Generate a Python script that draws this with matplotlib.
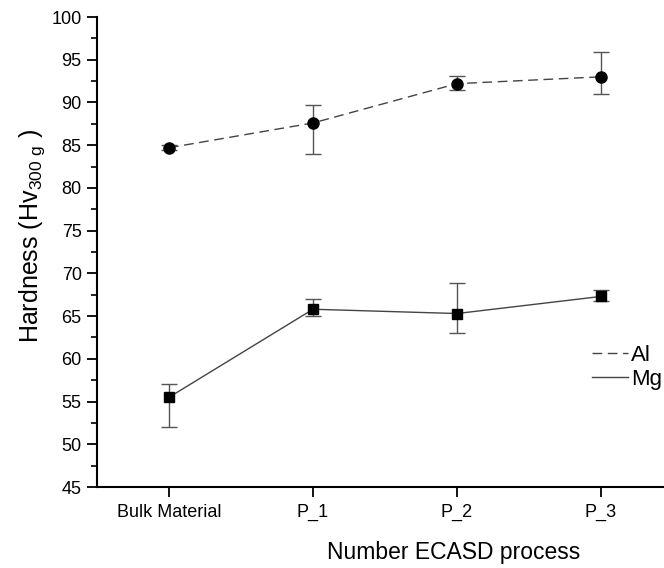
import numpy as np
import matplotlib
matplotlib.use('Agg')
import matplotlib.pyplot as plt
from matplotlib.ticker import MultipleLocator

plt.rcParams['font.family'] = ['Liberation Sans', 'DejaVu Sans']
plt.rcParams['mathtext.fontset'] = 'custom'
plt.rcParams['mathtext.rm'] = 'Liberation Sans'

# data
categories = ['Bulk Material', 'P_1', 'P_2', 'P_3']
al_mean = [84.7, 87.6, 92.2, 93.0]
al_err_low = [0.3, 3.6, 0.7, 2.0]
al_err_high = [0.3, 2.1, 0.9, 2.9]
mg_mean = [55.5, 65.8, 65.3, 67.3]
mg_err_low = [3.5, 0.8, 2.3, 0.5]
mg_err_high = [1.5, 1.2, 3.6, 0.7]

x = np.arange(len(categories))

fig = plt.figure(figsize=(6.64, 5.68), dpi=100)
# axis runs off the right edge of the picture, like the original
ax = fig.add_axes([97/664, 1-487/568, 576/664, 470/568])

line_col = '#444444'
err_col = '#555555'

ax.errorbar(x, al_mean, yerr=[al_err_low, al_err_high], fmt='none',
            ecolor=err_col, elinewidth=1, capsize=5.5, capthick=1)
ax.plot(x, al_mean, linestyle=(0, (7, 4)), color=line_col, lw=1, label='Al')
ax.plot(x, al_mean, 'o', color='black', ms=8)

ax.errorbar(x, mg_mean, yerr=[mg_err_low, mg_err_high], fmt='none',
            ecolor=err_col, elinewidth=1, capsize=5.5, capthick=1)
ax.plot(x, mg_mean, '-', color=line_col, lw=1, label='Mg')
ax.plot(x, mg_mean, 's', color='black', ms=7.5)

ax.set_xlim(-0.5, 3.5)
ax.set_ylim(45, 100)
ax.set_xticks(x)
ax.set_xticklabels(categories)
ax.yaxis.set_major_locator(MultipleLocator(5))
ax.yaxis.set_minor_locator(MultipleLocator(2.5))

for s in ['top', 'right']:
    ax.spines[s].set_visible(False)
for s in ['left', 'bottom']:
    ax.spines[s].set_linewidth(1.5)

ax.tick_params(axis='both', which='major', direction='out', length=7, width=1.3,
               labelsize=13)
ax.tick_params(axis='y', which='minor', direction='out', length=4, width=1.2)
ax.tick_params(axis='x', pad=5)
ax.tick_params(axis='y', pad=4)

ax.set_ylabel('Hardness (Hv$_{\\mathrm{300\\ g}}$ )', fontsize=18)
ax.yaxis.set_label_coords(-50/576, (487-236)/470)
ax.set_xlabel('Number ECASD process', fontsize=16.5)
ax.xaxis.set_label_coords((454-97)/576, -(541-487)/470)

handles, labels = ax.get_legend_handles_labels()
fig.legend(handles, labels, loc='upper left', bbox_to_anchor=(581/664, 1-334/568),
           frameon=False, fontsize=16, handlelength=1.6, handletextpad=0.15,
           labelspacing=0.12, borderpad=0)

fig.savefig('out.png', dpi=100)
